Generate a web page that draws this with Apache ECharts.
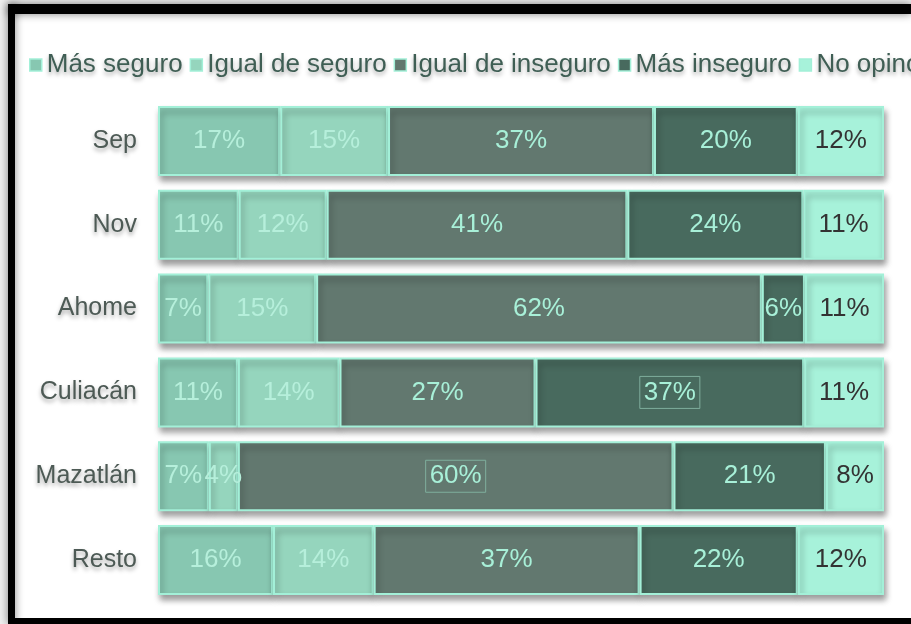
<!DOCTYPE html>
<html>
<head>
<meta charset="utf-8">
<script src="https://cdn.jsdelivr.net/npm/echarts@6/dist/echarts.min.js"></script>
<style>
  html, body { margin: 0; padding: 0; background: #fff; }
  #chart { width: 911px; height: 624px; }
</style>
</head>
<body>
<div id="chart"></div>
<script>
// categorias (de arriba hacia abajo)
var categorias = ['Sep', 'Nov', 'Ahome', 'Culiacán', 'Mazatlán', 'Resto'];
var nombres = ['Más seguro', 'Igual de seguro', 'Igual de inseguro', 'Más inseguro', 'No opinó'];

// porcentajes tal como aparecen en las etiquetas
var masSeguro      = [17, 11, 7, 11, 7, 16];
var igualSeguro    = [15, 12, 15, 14, 4, 14];
var igualInseguro  = [37, 41, 62, 27, 60, 37];
var masInseguro    = [20, 24, 6, 37, 21, 22];
var noOpino        = [12, 11, 11, 11, 8, 12];

var colores = ['#87c7b1', '#95d5bd', '#62786f', '#486a5e', '#a7f2da'];
var coloresTexto = ['#b6efdb', '#b6efdb', '#a8f0d8', '#a8f0d8', '#333333'];

var valores = [masSeguro, igualSeguro, igualInseguro, masInseguro, noOpino];

// total por fila, para que cada barra sume 100%
var totales = categorias.map(function (c, i) {
    var s = 0;
    for (var k = 0; k < valores.length; k++) s += valores[k][i];
    return s;
});

// etiquetas con recuadro (seleccionadas en el original)
var recuadros = { '3-3': true, '2-4': true };

var series = valores.map(function (arr, k) {
    return {
        name: nombres[k],
        type: 'bar',
        stack: 'total',
        barWidth: 70,
        itemStyle: {
            color: colores[k],
            borderColor: '#a3f0d8',
            borderWidth: 2,
            shadowColor: 'rgba(0,0,0,0.38)',
            shadowBlur: 6,
            shadowOffsetY: 5,
            shadowOffsetX: 2
        },
        label: {
            show: true,
            position: 'inside',
            color: coloresTexto[k],
            fontFamily: 'Liberation Sans, Arial, sans-serif',
            fontSize: 26,
            formatter: function (p) { return p.data.raw + '%'; }
        },
        data: arr.map(function (v, i) {
            var item = { value: v / totales[i] * 100, raw: v };
            if (recuadros[k + '-' + i]) {
                item.label = { borderColor: '#7fae9d', borderWidth: 1, padding: [4, 4, 2, 4] };
            }
            return item;
        })
    };
});

var myChart = echarts.init(document.getElementById('chart'));

var option = {
    backgroundColor: '#ffffff',
    animation: false,
    legend: {
        data: nombres,
        left: 24,
        top: 47,
        width: 1400,
        itemWidth: 12,
        itemHeight: 12,
        itemGap: 7,
        icon: 'rect',
        itemStyle: { borderColor: '#a3f0d8', borderWidth: 1.5 },
        textStyle: {
            fontFamily: 'Liberation Sans, Arial, sans-serif',
            fontSize: 26,
            color: '#3f5e54',
            textShadowColor: 'rgba(0,0,0,0.35)',
            textShadowBlur: 4,
            textShadowOffsetY: 3
        }
    },
    grid: { left: 158, right: 27, top: 99, bottom: 22 },
    xAxis: { type: 'value', min: 0, max: 100, show: false },
    yAxis: {
        type: 'category',
        data: categorias,
        inverse: true,
        axisLine: { show: false },
        axisTick: { show: false },
        axisLabel: {
            margin: 21,
            fontFamily: 'Liberation Sans, Arial, sans-serif',
            fontSize: 25,
            color: '#4d5a55',
            textShadowColor: 'rgba(0,0,0,0.35)',
            textShadowBlur: 4,
            textShadowOffsetY: 3
        }
    },
    series: series,
    graphic: [
        { type: 'rect', shape: { x: 0, y: 0, width: 911, height: 4 }, style: { fill: '#f0f0f0' }, z: 100 },
        { type: 'rect', shape: { x: 0, y: 0, width: 8, height: 624 }, style: { fill: '#f0f0f0' }, z: 100 },
        { type: 'rect', shape: { x: 8, y: 4, width: 903, height: 10 }, style: { fill: '#000', shadowColor: 'rgba(0,0,0,0.5)', shadowBlur: 8 }, z: 101 },
        { type: 'rect', shape: { x: 8, y: 4, width: 7, height: 620 }, style: { fill: '#000', shadowColor: 'rgba(0,0,0,0.5)', shadowBlur: 8 }, z: 101 },
        { type: 'rect', shape: { x: 8, y: 618, width: 903, height: 6 }, style: { fill: '#000' }, z: 101 }
    ]
};

myChart.setOption(option);
</script>
</body>
</html>
